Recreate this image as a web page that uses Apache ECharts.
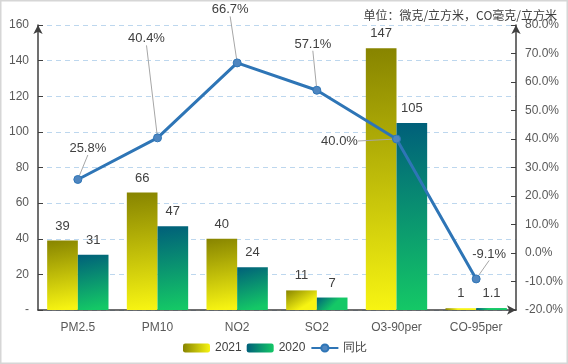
<!DOCTYPE html>
<html><head><meta charset="utf-8">
<script src="https://cdn.jsdelivr.net/npm/echarts@6/dist/echarts.min.js"></script>
<style>html,body{margin:0;padding:0;background:#fff}#c{width:568px;height:364px}</style>
</head><body><div id="c"></div>
<script>
const categories = ['PM2.5','PM10','NO2','SO2','O3-90per','CO-95per'];
const values2021 = [39,66,40,11,147,1];
const values2020 = [31,47,24,7,105,1.1];
const yoyPct = [25.8,40.4,66.7,57.1,40.0,-9.1];
const leftTicks = {min:0,max:160,interval:20};
const rightTicks = {min:-20,max:80,interval:10};

const labelShift = [[10,-15],[-11,-83],[-7,-37],[-4,-30],[-57,18],[13,-9]];
const txt = '#404040';
const font = 'Liberation Sans, Arial, sans-serif';
const chart = echarts.init(document.getElementById('c'));
function grad(a,b){return new echarts.graphic.LinearGradient(0,0,0.4,1,[{offset:0,color:a},{offset:1,color:b}]);}
function hgrad(a,b){return new echarts.graphic.LinearGradient(0,0,1,0,[{offset:0,color:a},{offset:1,color:b}]);}
chart.setOption({
  animation:false,
  textStyle:{fontFamily:font},
  title:{text:'单位：微克/立方米，CO毫克/立方米',right:6,top:4,textStyle:{fontSize:12,fontWeight:'normal',color:txt,fontFamily:'Noto Sans CJK SC, sans-serif'}},
  graphic:[{type:'rect',shape:{x:0.75,y:0.75,width:566.5,height:362.5},style:{fill:'none',stroke:'#d6d6d6',lineWidth:1.5},silent:true}],
  grid:{left:38,right:52,top:25,bottom:54},
  legend:{left:178,top:337,itemWidth:27,itemHeight:9,itemGap:5,textStyle:{fontSize:12,color:txt},
    data:[{name:'2021',itemStyle:{color:hgrad('#878400','#f7f412')}},{name:'2020',itemStyle:{color:hgrad('#005f7a','#14c866')}},{name:'同比'}]},
  xAxis:{type:'category',data:categories,
    axisLine:{lineStyle:{color:'#404040',width:1.5},symbol:['none','arrow'],symbolSize:[7,9]},
    axisTick:{alignWithLabel:true,inside:true,length:5,lineStyle:{color:'#404040'}},
    axisLabel:{color:'#595959',fontSize:12,margin:12}},
  yAxis:[{type:'value',min:leftTicks.min,max:leftTicks.max,interval:leftTicks.interval,
      axisLine:{show:true,lineStyle:{color:'#404040',width:1.5},symbol:['none','arrow'],symbolSize:[7,9]},
      axisTick:{show:true,inside:true,length:5,lineStyle:{color:'#404040'}},
      axisLabel:{color:'#595959',fontSize:12,margin:9,formatter:v=>v===0?'-':v},
      splitLine:{lineStyle:{color:'#bdd7ee',type:[5,4]}}},
    {type:'value',min:rightTicks.min,max:rightTicks.max,interval:rightTicks.interval,position:'right',
      axisLine:{show:true,lineStyle:{color:'#404040',width:1.5},symbol:['none','arrow'],symbolSize:[7,9]},
      axisTick:{show:true,inside:true,length:5,lineStyle:{color:'#404040'}},
      axisLabel:{color:'#595959',fontSize:12,margin:9,formatter:v=>v.toFixed(1)+'%'},
      splitLine:{show:false}}],
  series:[
    {name:'2021',type:'bar',data:values2021,barGap:'0%',barCategoryGap:'23%',
      itemStyle:{color:grad('#878400','#f7f412')},
      label:{show:true,position:'top',distance:8,color:txt,fontSize:13}},
    {name:'2020',type:'bar',data:values2020,
      itemStyle:{color:grad('#005f7a','#14c866')},
      label:{show:true,position:'top',distance:8,color:txt,fontSize:13}},
    {name:'同比',type:'line',yAxisIndex:1,data:yoyPct,z:5,
      lineStyle:{color:'#2e75b6',width:3},symbol:'circle',symbolSize:8,
      itemStyle:{color:'#4f86c0',borderColor:'#2e75b6',borderWidth:1},
      label:{show:true,position:'top',distance:5,color:txt,fontSize:13,formatter:p=>p.value.toFixed(1)+'%'},
      labelLine:{show:true,lineStyle:{color:'#a6a6a6',width:1}},
      labelLayout:p=>({dx:labelShift[p.dataIndex][0],dy:labelShift[p.dataIndex][1]})}
  ]
});
</script></body></html>
